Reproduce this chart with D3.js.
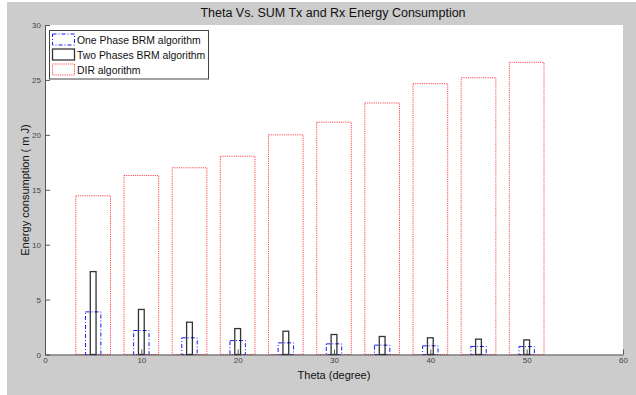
<!DOCTYPE html>
<html>
<head>
<meta charset="utf-8">
<script src="https://d3js.org/d3.v7.min.js"></script>
<style>
  body { margin: 0; background: #fff; }
  text { font-family: "Liberation Sans", Arial, sans-serif; }
</style>
</head>
<body>
<script>
// values
var theta = [5, 10, 15, 20, 25, 30, 35, 40, 45, 50];
var onePhase = [3.88, 2.18, 1.52, 1.27, 1.06, 0.97, 0.85, 0.79, 0.73, 0.72];
var twoPhases = [7.55, 4.1, 2.94, 2.36, 2.12, 1.82, 1.64, 1.52, 1.4, 1.33];
var dirAlg = [14.45, 16.3, 17.0, 18.05, 20.0, 21.15, 22.9, 24.66, 25.2, 26.6];
var xTicks = [0, 10, 20, 30, 40, 50, 60];
var yTicks = [0, 5, 10, 15, 20, 25, 30];
var legendItems = ["One Phase BRM algorithm", "Two Phases BRM algorithm", "DIR algorithm"];

var width = 636, height = 395;
var plot = {left: 45, right: 623, top: 25, bottom: 354.5};

var svg = d3.select("body").append("svg")
    .attr("width", width)
    .attr("height", height);

svg.append("rect")
    .attr("x", 7).attr("y", 2)
    .attr("width", width - 7).attr("height", height - 2)
    .attr("fill", "#cccccc");

svg.append("rect")
    .attr("x", plot.left).attr("y", plot.top)
    .attr("width", plot.right - plot.left).attr("height", plot.bottom - plot.top)
    .attr("fill", "#fff");

var x = d3.scaleLinear().domain([0, 60]).range([plot.left, plot.right]);
var y = d3.scaleLinear().domain([0, 30]).range([plot.bottom, plot.top]);

var series = [
    {name: "dir", values: dirAlg, w: 3.6, color: "#ff0000", dash: "1.2,1", sw: 1, op: 0.7},
    {name: "one", values: onePhase, w: 1.6, color: "#0000ff", dash: "4,2,1,2", sw: 1, op: 0.9},
    {name: "two", values: twoPhases, w: 0.6, color: "#000", dash: null, sw: 1.3, op: 0.8}
];

series.forEach(function(s) {
    svg.append("g").selectAll("rect")
      .data(s.values)
      .enter().append("rect")
        .attr("x", function(d, i) { return x(theta[i] - s.w / 2); })
        .attr("width", x(s.w) - x(0))
        .attr("y", function(d) { return y(d); })
        .attr("height", function(d) { return y(0) - y(d); })
        .attr("fill", "none")
        .attr("stroke", s.color)
        .attr("stroke-opacity", s.op)
        .attr("stroke-width", s.sw)
        .attr("stroke-dasharray", s.dash);
});

// axes, ticks pointing inward like matlab
var xAxis = svg.append("g")
    .attr("transform", "translate(0," + plot.bottom + ")")
    .call(d3.axisBottom(x).tickValues(xTicks).tickSizeInner(-5).tickSizeOuter(0).tickPadding(4));
var yAxis = svg.append("g")
    .attr("transform", "translate(" + plot.left + ",0)")
    .call(d3.axisLeft(y).tickValues(yTicks).tickSizeInner(-5).tickSizeOuter(0).tickPadding(4));

[xAxis, yAxis].forEach(function(a) {
    a.select(".domain").attr("stroke", "#555");
    a.selectAll(".tick line").attr("stroke", "#555");
    a.selectAll(".tick text")
        .attr("fill", "#444")
        .style("font-size", "8px")
        .style("font-family", "Liberation Sans, Arial, sans-serif");
});
xAxis.selectAll(".tick text").attr("dy", "0.6em");

svg.append("text")
    .attr("x", 333).attr("y", 17)
    .attr("text-anchor", "middle")
    .style("font-size", "12.5px")
    .attr("fill", "#111")
    .text("Theta Vs. SUM Tx and Rx Energy Consumption");

svg.append("text")
    .attr("x", 334).attr("y", 379)
    .attr("text-anchor", "middle")
    .style("font-size", "11px")
    .attr("fill", "#111")
    .text("Theta (degree)");

svg.append("text")
    .attr("transform", "translate(29,190) rotate(-90)")
    .attr("text-anchor", "middle")
    .style("font-size", "11px")
    .attr("fill", "#111")
    .text("Energy consumption ( m J)");

// legend
var legend = svg.append("g");
legend.append("rect")
    .attr("x", 49.5).attr("y", 30.5)
    .attr("width", 159).attr("height", 48.5)
    .attr("fill", "#fff")
    .attr("stroke", "#444");

var legendSeries = [series[1], series[2], series[0]];
legendItems.forEach(function(name, i) {
    var s = legendSeries[i];
    var cy = 39.5 + i * 15;
    legend.append("rect")
        .attr("x", 52.5).attr("y", cy - 5.5)
        .attr("width", 22).attr("height", 11)
        .attr("fill", "none")
        .attr("stroke", s.color)
        .attr("stroke-opacity", s.op)
        .attr("stroke-width", s.sw)
        .attr("stroke-dasharray", s.dash);
    legend.append("text")
        .attr("x", 77).attr("y", cy + 4)
        .style("font-size", "10.4px")
        .attr("fill", "#111")
        .text(name);
});
</script>
</body>
</html>
